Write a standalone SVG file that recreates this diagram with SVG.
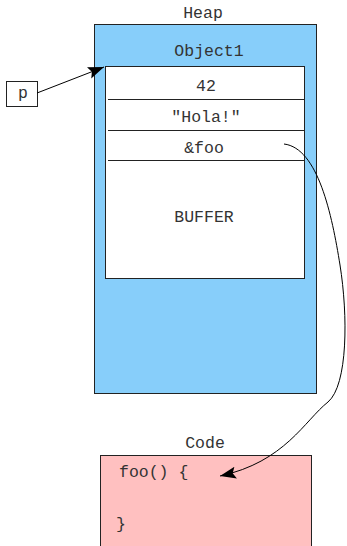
<svg xmlns="http://www.w3.org/2000/svg" width="347" height="546" viewBox="0 0 347 546">
<defs>
<style>
text{font-family:"Liberation Mono","Courier New",monospace;font-size:16.5px;fill:#333;text-anchor:middle}
.box{stroke:#222;stroke-width:1}
.sep{stroke:#222;stroke-width:1}
.edge{fill:none;stroke:#000;stroke-width:1}
</style>
<marker id="ah" markerUnits="userSpaceOnUse" markerWidth="20" markerHeight="14" refX="16" refY="6" orient="auto">
<path d="M0,0 L16,6 L0,12 L3,6 Z" fill="#000"/>
</marker>
</defs>
<g id="heap">
<rect class="box" x="94.5" y="24.5" width="222" height="369" fill="#87CEFA"/>
<text x="203" y="18">Heap</text>
</g>
<g id="object1">
<text x="209" y="56">Object1</text>
<rect class="box" x="105.5" y="66.5" width="199" height="212" fill="#fff"/>
<line class="sep" x1="108" y1="99.5" x2="304" y2="99.5"/>
<line class="sep" x1="108" y1="130.5" x2="304" y2="130.5"/>
<line class="sep" x1="108" y1="160.5" x2="304" y2="160.5"/>
<text x="206" y="91">42</text>
<text x="206" y="122">"Hola!"</text>
<text x="204" y="153">&amp;foo</text>
<text x="204" y="222">BUFFER</text>
</g>
<g id="p">
<rect class="box" x="6.5" y="81.5" width="31" height="25" fill="#fff"/>
<text x="23" y="98">p</text>
</g>
<g id="code">
<rect class="box" x="100.5" y="455.5" width="211" height="95" fill="#FFC0C0"/>
<text x="205" y="448">Code</text>
<text x="119" y="477" style="text-anchor:start">foo() {</text>
<text x="116" y="529" style="text-anchor:start">}</text>
</g>
<g id="connectors">
<path class="edge" d="M284,144 C318,148 332,215 340,265 C348,315 348,385 328,402 C305,420 285,462 220,476" marker-end="url(#ah)"/>
<path class="edge" d="M37,93 L104,67" marker-end="url(#ah)"/>
</g>
</svg>
